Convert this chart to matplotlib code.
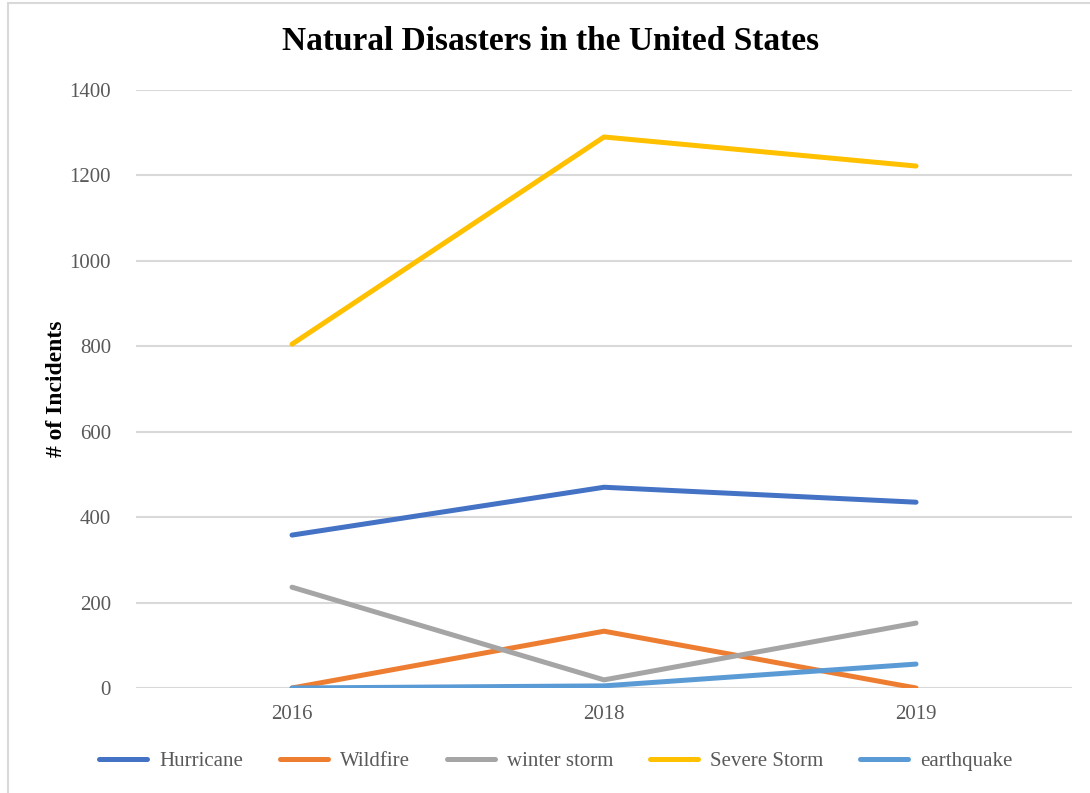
import matplotlib.pyplot as plt
from matplotlib.patches import Rectangle

plt.rcParams['font.family'] = ['Liberation Serif', 'DejaVu Serif']

# Yearly incident counts by disaster type
years = ['2016', '2018', '2019']
hurricane = [358, 470, 435]
wildfire = [0, 133, 0]
winter_storm = [236, 19, 152]
severe_storm = [805, 1290, 1222]
earthquake = [0, 5, 56]

series = [
    ('Hurricane', hurricane, '#4472C4'),
    ('Wildfire', wildfire, '#ED7D31'),
    ('winter storm', winter_storm, '#A5A5A5'),
    ('Severe Storm', severe_storm, '#FFC000'),
    ('earthquake', earthquake, '#5B9BD5'),
]

fig = plt.figure(figsize=(10.9, 7.93), dpi=100)
ax = fig.add_axes([0.1248, 0.1324, 0.8587, 0.7541])

# light chart-area border
fig.patches.append(Rectangle((8 / 1090, -0.01), 1.05, 1 - 3 / 793 + 0.01,
                             transform=fig.transFigure, fill=False,
                             edgecolor='#D9D9D9', linewidth=1.5))

x = range(len(years))
for name, vals, color in series:
    ax.plot(x, vals, color=color, linewidth=3.6, solid_capstyle='round',
            solid_joinstyle='round', label=name, zorder=3)

ax.set_xlim(-0.5, 2.5)
ax.set_ylim(0, 1400)
ax.set_yticks(range(0, 1401, 200))
ax.set_xticks(list(x))
ax.set_xticklabels(years)
ax.yaxis.grid(True, color='#D9D9D9', linewidth=1.5)
ax.set_axisbelow(True)
for s in ax.spines.values():
    s.set_visible(False)
ax.tick_params(length=0, labelsize=15, labelcolor='#595959')
ax.tick_params(axis='y', pad=18)
ax.tick_params(axis='x', pad=12)

ax.set_ylabel('# of Incidents', fontsize=17, fontweight='bold')
ax.yaxis.set_label_coords(-0.074, 0.5)
fig.text(0.505, 0.948, 'Natural Disasters in the United States',
         ha='center', va='center', fontsize=24, fontweight='bold')

fig.legend(loc='center', bbox_to_anchor=(0.51, 0.04), ncol=5, frameon=False,
           fontsize=15, handlelength=2.3, columnspacing=1.75, handletextpad=0.6,
           labelcolor='#595959')

fig.savefig('out.png', dpi=100, facecolor='white')
